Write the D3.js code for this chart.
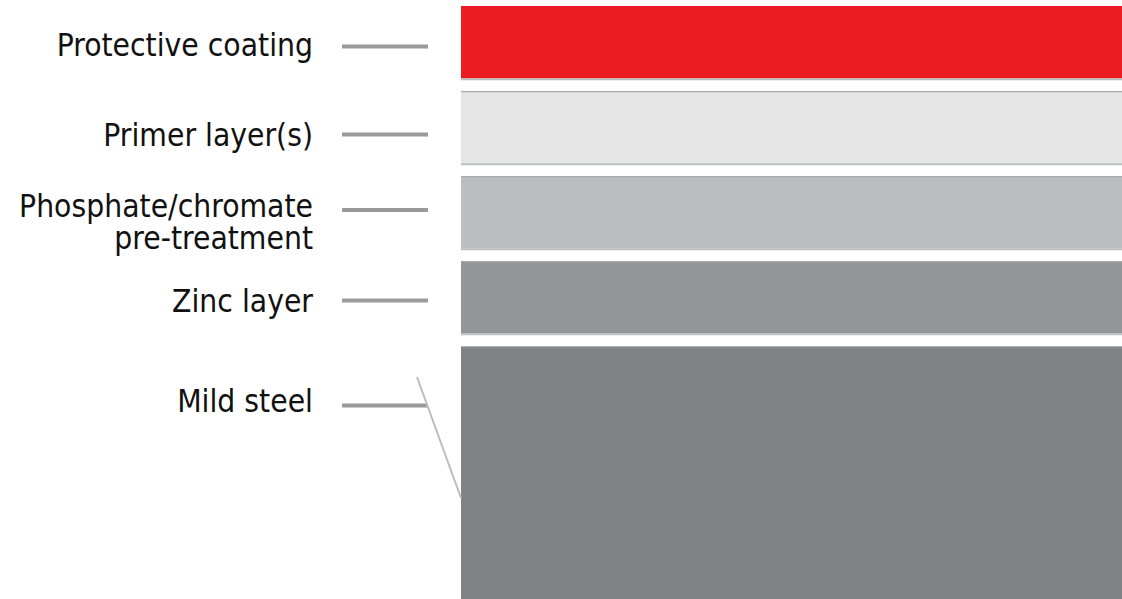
<!DOCTYPE html>
<html>
<head>
<meta charset="utf-8">
<script src="https://cdn.jsdelivr.net/npm/d3@7"></script>
<style>
  html, body { margin: 0; padding: 0; background: #fff; }
  svg { display: block; }
</style>
</head>
<body>
<svg id="chart" width="1122" height="599"></svg>
<script>
// ---- data ----
const layers = ["Protective coating", "Primer layer(s)", "Phosphate/chromate\npre-treatment", "Zinc layer", "Mild steel"];
const thickness = [1, 1, 1, 1, 3.5];           // relative layer thickness (steel runs off the page)
const layerColors = ["#ED1C24", "#E5E5E5", "#BCBDC0", "#939598", "#808285"];

// ---- layout ----
const W = 1122, H = 599;
const svg = d3.select("#chart");
const unit = 85, gap = 12.5, top0 = 6;
const cum = d3.cumsum([0, ...thickness]);
const y = d3.scaleLinear().domain([0, d3.sum(thickness)]).range([top0, top0 + unit * d3.sum(thickness)]);
const x = d3.scaleLinear().domain([0, 1]).range([461, W]);

const leaderY = [46.5, 134.5, 210, 300.5, 405.5];   // leader-line centre for each label
const baseY = [56, 146, 216.7, 312.3, 412.3];        // first-line baseline for each label
const lineGap = 32;
const textRight = 313;

const data = layers.map((name, i) => ({
  name, color: layerColors[i], y0: y(cum[i]), y1: y(cum[i + 1]) - gap, ly: leaderY[i], by: baseY[i], i
}));

svg.append("clipPath").attr("id", "clip").append("rect").attr("width", W).attr("height", H);
const g = svg.append("g").attr("clip-path", "url(#clip)");

// layer slabs
g.selectAll("rect.layer").data(data).join("rect")
  .attr("class", "layer")
  .attr("x", x(0)).attr("width", x(1) - x(0))
  .attr("y", d => d.y0).attr("height", d => d.y1 - d.y0)
  .attr("fill", d => d.color);

// top edge lines (not on the red coating)
g.selectAll("line.top").data(data.filter(d => d.i > 0)).join("line")
  .attr("class", "top")
  .attr("x1", x(0)).attr("x2", x(1))
  .attr("y1", d => d.y0 + 0.6).attr("y2", d => d.y0 + 0.6)
  .attr("stroke", "#A9AAAD").attr("stroke-width", 1.2);

// bottom edge lines
g.selectAll("line.bot").data(data.filter(d => d.i < 4)).join("line")
  .attr("class", "bot")
  .attr("x1", x(0)).attr("x2", x(1))
  .attr("y1", d => d.y1 + 0.8).attr("y2", d => d.y1 + 0.8)
  .attr("stroke", "#BDBEC0").attr("stroke-width", 2);

// leader lines
svg.selectAll("line.leader").data(data).join("line")
  .attr("class", "leader")
  .attr("x1", 342).attr("x2", 428)
  .attr("y1", d => d.ly).attr("y2", d => d.ly)
  .attr("stroke", "#9A9A9A").attr("stroke-width", 4);

// diagonal pointer into the steel
svg.append("line")
  .attr("x1", 417).attr("y1", 377).attr("x2", 461).attr("y2", 498)
  .attr("stroke", "#BDBDBD").attr("stroke-width", 2);

// labels
const fs = 31.5;
const lab = svg.selectAll("text.lab").data(data).join("text")
  .attr("class", "lab")
  .attr("text-anchor", "end")
  .attr("font-family", "'DejaVu Sans Condensed', 'DejaVu Sans', sans-serif")
  .attr("font-size", fs)
  .attr("fill", "#111");
lab.each(function(d) {
  const t = d3.select(this);
  d.name.split("\n").forEach((ln, k) => {
    t.append("tspan").attr("x", textRight)
      .attr("y", d.by + k * lineGap)
      .text(ln);
  });
});
</script>
</body>
</html>
